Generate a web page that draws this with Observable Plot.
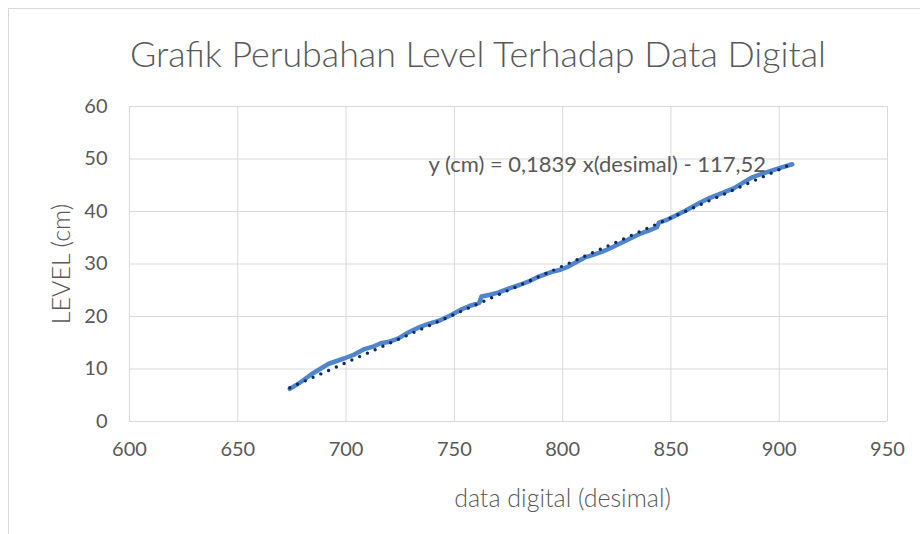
<!DOCTYPE html>
<html>
<head>
<meta charset="utf-8">
<script src="https://cdn.jsdelivr.net/npm/d3@7"></script>
<script src="https://cdn.jsdelivr.net/npm/@observablehq/plot@0.6"></script>
<style>
  html, body { margin: 0; padding: 0; background: #ffffff; }
  #wrap { position: relative; width: 920px; height: 534px; overflow: hidden; background: #fff; font-family: Lato, "Open Sans", sans-serif; }
  #frame { position: absolute; left: 8px; top: 8px; right: -2px; bottom: -2px; border-top: 1px solid #d9d9d9; border-left: 1px solid #d9d9d9; }
  #title { position: absolute; top: 36px; left: 478px; white-space: nowrap; font-size: 35px; font-weight: 300; color: #595959; transform-origin: center top; line-height: 1; }
  #chart { position: absolute; left: 0; top: 80px; }
</style>
</head>
<body>
<div id="wrap">
  <div id="frame"></div>
  <div id="title">Grafik Perubahan Level Terhadap Data Digital</div>
  <div id="chart"></div>
</div>
<script>
// Measured series: digital value (desimal) vs. level (cm)
const digital = [674, 678, 684, 688, 692, 699, 704, 708.5, 712, 716, 720, 724, 728, 734, 738, 743, 749, 753, 757, 761.5, 762.5, 766, 770.5, 775, 780, 785, 789, 795, 799, 802, 806, 810, 813, 818, 822, 826, 831, 836, 840, 843.5, 844.5, 848, 852, 856, 860, 864, 868, 873, 879, 883, 887, 890, 893, 899, 906];
const level   = [6.2, 7.2, 9.0, 10.0, 11.0, 12.0, 12.8, 13.8, 14.2, 14.9, 15.2, 15.8, 16.8, 18.0, 18.6, 19.2, 20.4, 21.3, 22.0, 22.6, 23.8, 24.1, 24.6, 25.3, 26.0, 26.8, 27.6, 28.5, 28.9, 29.4, 30.3, 31.2, 31.6, 32.3, 33.0, 33.8, 34.8, 35.8, 36.4, 37.0, 37.9, 38.4, 39.2, 40.0, 40.9, 41.8, 42.6, 43.4, 44.4, 45.4, 46.4, 46.9, 47.3, 48.1, 49.0];

// Linear trendline as given on the chart
const trendSlope = 0.1839;
const trendIntercept = -117.52;
const equationText = "y (cm) = 0,1839 x(desimal) - 117,52";

// Axis ticks and labels
const xTicks = [600, 650, 700, 750, 800, 850, 900, 950];
const yTicks = [0, 10, 20, 30, 40, 50, 60];
const xLabel = "data digital (desimal)";
const yLabel = "LEVEL (cm)";

const series = digital.map((d, i) => ({x: d, y: level[i]}));
const xExt = d3.extent(digital);
const trend = xExt.map(x => ({x, y: trendSlope * x + trendIntercept}));

const textColor = "#595959";
const gridColor = "#d9d9d9";

const chart = Plot.plot({
  width: 920,
  height: 454,
  marginTop: 26,
  marginBottom: 113,
  marginLeft: 129,
  marginRight: 33,
  style: {fontFamily: "Lato, 'Open Sans', sans-serif", fontSize: "20px", color: textColor, background: "transparent", overflow: "visible"},
  x: {domain: [600, 950]},
  y: {domain: [0, 60]},
  marks: [
    Plot.gridX(xTicks, {stroke: gridColor, strokeOpacity: 1, strokeWidth: 1}),
    Plot.gridY(yTicks, {stroke: gridColor, strokeOpacity: 1, strokeWidth: 1}),
    Plot.axisX({ticks: xTicks, tickSize: 0, tickPadding: 20, label: null, fill: textColor, fontSize: 20}),
    Plot.axisY({ticks: yTicks, tickSize: 0, tickPadding: 22, label: null, fill: textColor, fontSize: 20}),
    Plot.line(series, {x: "x", y: "y", stroke: "#5085cc", strokeWidth: 4.5, strokeLinejoin: "round", strokeLinecap: "round"}),
    Plot.line(trend, {x: "x", y: "y", stroke: "#0d2a66", strokeWidth: 3.4, strokeLinecap: "round", strokeDasharray: "0 8.5"}),
    Plot.text([equationText], {x: 816, y: 48.8, fill: textColor, fontSize: 22, textAnchor: "middle", lineAnchor: "middle"}),
    Plot.text([xLabel], {frameAnchor: "bottom", dx: 54, dy: 77, fill: textColor, fontSize: 25, fontWeight: 300, textAnchor: "middle", lineAnchor: "middle"}),
    Plot.text([yLabel], {frameAnchor: "left", dx: -68, rotate: -90, fill: textColor, fontSize: 25, fontWeight: 300, textAnchor: "middle", lineAnchor: "middle"})
  ]
});
document.getElementById("chart").appendChild(chart);

// fit title to the reference width
const title = document.getElementById("title");
const w = title.getBoundingClientRect().width;
const k = 696 / w;
title.style.transform = `translateX(-50%) scaleX(${k})`;
</script>
</body>
</html>
